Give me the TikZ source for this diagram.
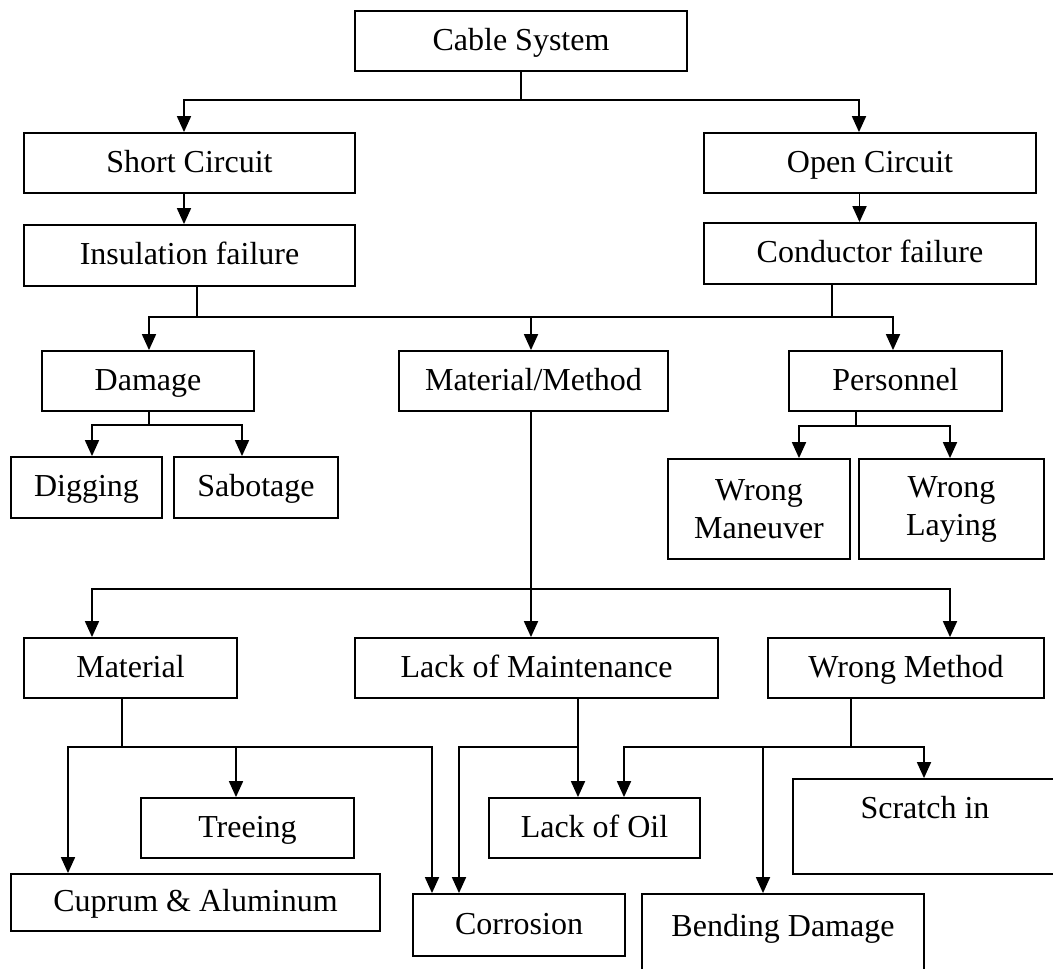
\documentclass[tikz,border=0pt]{standalone}
\usepackage{fontspec}
\setmainfont{Liberation Serif}
\usetikzlibrary{arrows.meta}
\tikzset{
  box/.style={draw, line width=1.8pt, inner sep=0pt, align=center,
    font=\fontsize{32}{38}\selectfont},
  one/.style={box, text height=25pt, text depth=7pt},
  conn/.style={line width=1.6pt},
  arr/.style={line width=1.8pt, -{Triangle[length=16pt,width=14pt]}},
}
\begin{document}
\begin{tikzpicture}[x=1pt,y=-1pt]
\useasboundingbox (0,0) rectangle (1053,969);
\clip (0,0) rectangle (1053,969);
% nodes
\node[one, minimum width=332, minimum height=60] (cable) at (521,41) {Cable System};
\node[one, minimum width=331, minimum height=60] (short) at (189.5,163) {Short Circuit};
\node[one, minimum width=332, minimum height=60] (open) at (870,163) {Open Circuit};
\node[one, minimum width=331, minimum height=61] (ins) at (189.5,255.5) {Insulation failure};
\node[one, minimum width=332, minimum height=61] (cond) at (870,253.5) {Conductor failure};
\node[one, minimum width=212, minimum height=60] (dam) at (148,381) {Damage};
\node[one, minimum width=269, minimum height=60] (matmeth) at (533.5,381) {Material/Method};
\node[one, minimum width=213, minimum height=60] (pers) at (895.5,381) {Personnel};
\node[one, minimum width=151, minimum height=61] (dig) at (86.5,487.5) {Digging};
\node[one, minimum width=164, minimum height=61] (sab) at (256,487.5) {Sabotage};
\node[box, minimum width=182, minimum height=100] (man) at (759,509) {Wrong\\Maneuver};
\node[box, minimum width=185, minimum height=100] (lay) at (951.5,509) {Wrong\\Laying};
\node[one, minimum width=213, minimum height=60] (mat) at (130.5,668) {Material};
\node[one, minimum width=363, minimum height=60] (lm) at (536.5,668) {Lack of Maintenance};
\node[one, minimum width=276, minimum height=60] (wm) at (906,668) {Wrong Method};
\node[one, minimum width=213, minimum height=60] (tree) at (247.5,828) {Treeing};
\node[one, minimum width=369, minimum height=57] (cup) at (195.5,902.5) {Cuprum \& Aluminum};
\node[one, minimum width=212, minimum height=62] (corr) at (519,925) {Corrosion};
\node[one, minimum width=211, minimum height=60] (oil) at (594.5,828) {Lack of Oil};
\node[box, minimum width=282, minimum height=100] (bend) at (783,944) {Bending Damage\\ \mbox{}};
\node[box, minimum width=264, minimum height=95] (scr) at (925,826.5) {Scratch in\\ \mbox{}};
% bus coordinates
\coordinate (b1) at (521,100);
\coordinate (b2) at (531,317);
\coordinate (b3) at (149,425);
\coordinate (b8) at (856,426);
\coordinate (b4) at (531,589);
\coordinate (b5) at (122,747);
\coordinate (b6) at (578,747);
\coordinate (b7) at (851,747);
% level 1
\draw[conn] (cable.south) -- (b1);
\draw[arr] (b1) -| ([xshift=-5.5pt]short.north);
\draw[arr] (b1) -| ([xshift=-11pt]open.north);
\draw[arr] ([xshift=-5.5pt]short.south) -- ([xshift=-5.5pt]ins.north);
\draw[arr] ([xshift=-10.5pt]open.south) -- ([xshift=-10.5pt]cond.north);
% level 2
\draw[conn] ([xshift=7.5pt]ins.south) |- (b2);
\draw[conn] ([xshift=-38pt]cond.south) |- (b2);
\draw[arr] (b2) -| ([xshift=1pt]dam.north);
\draw[arr] (b2) -- ([xshift=-2.5pt]matmeth.north);
\draw[arr] (b2) -| ([xshift=-2.5pt]pers.north);
% damage
\draw[conn] ([xshift=1pt]dam.south) -- (b3);
\draw[arr] (b3) -| ([xshift=5.5pt]dig.north);
\draw[arr] (b3) -| ([xshift=-14pt]sab.north);
% personnel
\draw[conn] ([xshift=-39.5pt]pers.south) -- (b8);
\draw[arr] (b8) -| ([xshift=40pt]man.north);
\draw[arr] (b8) -| ([xshift=-1.5pt]lay.north);
% material/method
\draw[arr] ([xshift=-2.5pt]matmeth.south) -- ([xshift=-5.5pt]lm.north);
\draw[arr] (b4) -| ([xshift=-38.5pt]mat.north);
\draw[arr] (b4) -| ([xshift=44pt]wm.north);
% material
\draw[conn] ([xshift=-8.5pt]mat.south) -- (b5);
\draw[arr] (b5) -| ([xshift=-127.5pt]cup.north);
\draw[arr] (b5) -| ([xshift=-11.5pt]tree.north);
\draw[arr] (b5) -| ([xshift=-87pt]corr.north);
% lack of maintenance
\draw[conn] ([xshift=41.5pt]lm.south) -- (b6);
\draw[arr] (b6) -- ([xshift=-16.5pt]oil.north);
\draw[arr] (b6) -| ([xshift=-60pt]corr.north);
% wrong method
\draw[conn] ([xshift=-55pt]wm.south) -- (b7);
\draw[arr] (b7) -| ([xshift=29.5pt]oil.north);
\draw[arr] (b7) -| ([xshift=-20pt]bend.north);
\draw[arr] (b7) -| ([xshift=-1pt]scr.north);
\end{tikzpicture}
\end{document}
